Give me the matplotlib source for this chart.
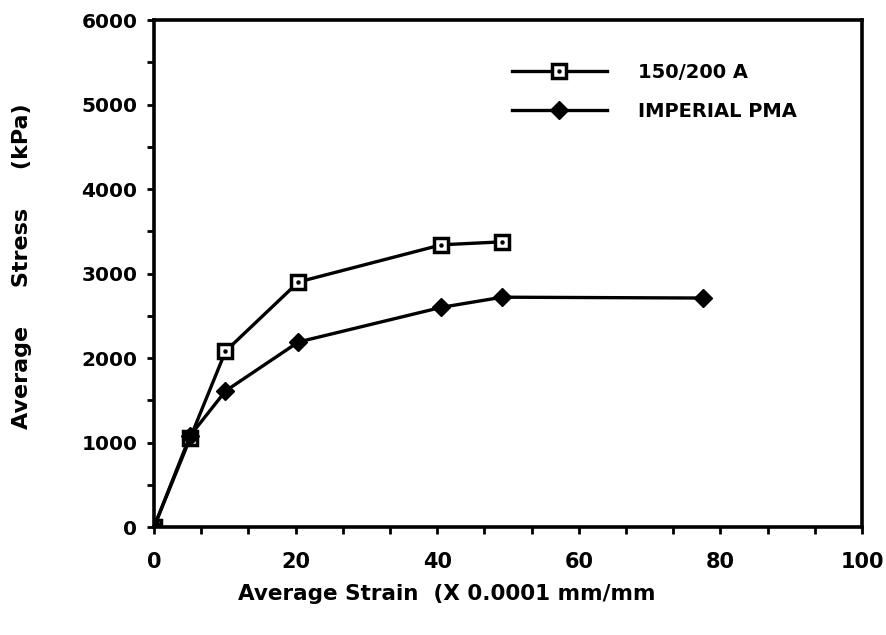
"""Average stress vs average strain for two binders."""

import matplotlib

matplotlib.use("Agg")
import matplotlib.pyplot as plt
from matplotlib.legend_handler import HandlerTuple
from matplotlib.ticker import MultipleLocator

# data
strain_a = [0, 5.1, 10.1, 20.4, 40.6, 49.2]
stress_a = [0, 1050, 2080, 2900, 3340, 3375]
strain_pma = [0, 5.1, 10.1, 20.4, 40.6, 49.2, 77.5]
stress_pma = [0, 1080, 1610, 2190, 2600, 2720, 2710]
labels = ["150/200 A", "IMPERIAL PMA"]

plt.rcParams["font.family"] = ["DejaVu Sans"]
plt.rcParams["font.weight"] = "bold"

fig = plt.figure(figsize=(8.87, 6.35), dpi=100)
ax = fig.add_axes([0.1736, 0.170, 0.7982, 0.7985])

lw = 2.4
(l1,) = ax.plot(strain_a, stress_a, color="black", lw=lw, marker="s", ms=9.5,
                mfc="white", mec="black", mew=2.5, zorder=3)
(d1,) = ax.plot(strain_a[1:], stress_a[1:], ls="none", marker="o", ms=2.2,
                color="black", zorder=4)
(l2,) = ax.plot(strain_pma, stress_pma, color="black", lw=lw, marker="D", ms=9,
                mfc="black", mec="black", zorder=3)

ax.set_xlim(0, 100)
ax.set_ylim(0, 6000)
ax.xaxis.set_major_locator(MultipleLocator(20))
ax.xaxis.set_minor_locator(MultipleLocator(20 / 3))
ax.yaxis.set_major_locator(MultipleLocator(1000))
ax.yaxis.set_minor_locator(MultipleLocator(500))
ax.tick_params(which="both", direction="out", width=2, length=5)
ax.tick_params(axis="y", labelsize=14.5, pad=7)
ax.tick_params(axis="x", labelsize=15, pad=13)
for s in ax.spines.values():
    s.set_linewidth(2.6)
for t in ax.get_xticklabels() + ax.get_yticklabels():
    t.set_fontweight("bold")

ax.set_xlabel("Average Strain  (X 0.0001 mm/mm", fontsize=15.5, fontweight="bold")
ax.xaxis.set_label_coords(0.414, -0.112)
ax.set_ylabel("Average     Stress     (kPa)", fontsize=16, fontweight="bold")
ax.yaxis.set_label_coords(-0.172, 0.515)

ax.legend([(l1, d1), l2], labels, handler_map={tuple: HandlerTuple(ndivide=1)},
          loc="upper left", bbox_to_anchor=(0.505, 0.915), frameon=False,
          fontsize=14, handlelength=4.9, handletextpad=1.6, labelspacing=1.0,
          borderaxespad=0, borderpad=0)

fig.savefig("out.png", dpi=100)
